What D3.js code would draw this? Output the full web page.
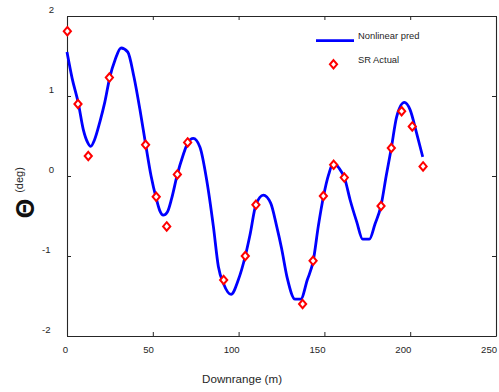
<!DOCTYPE html>
<html>
<head>
<meta charset="utf-8">
<script src="https://cdn.jsdelivr.net/npm/d3@7"></script>
<style>
  html, body { margin: 0; padding: 0; background: #fff; }
  svg { display: block; font-family: "Liberation Sans", Arial, sans-serif; }
</style>
</head>
<body>
<svg id="chart" width="499" height="392"></svg>
<script>
// Nonlinear prediction of pitch angle along the run
const predDist = [0, 3, 6.6, 9.5, 12, 13.8, 16, 19.2, 22, 25, 28, 31.5, 35.4, 39, 42.5,
  45.8, 49, 52, 54, 56.1, 58.5, 61, 64.3, 67.5, 70.3, 73.6, 77.5, 81.4, 85.3, 88.2,
  91.3, 95.6, 99.8, 103.9, 106.6, 110.1, 114.4, 118.7, 122.2, 125, 128.4, 132.9, 136.2,
  140, 143.5, 146.5, 149.6, 152.5, 155.2, 158.5, 161.8, 165, 168.8, 172.3, 176.2,
  179.5, 183, 186, 189, 192.1, 196.6, 199.9, 203.8, 207.3];
const predTheta = [1.55, 1.22, 0.91, 0.58, 0.42, 0.37, 0.45, 0.68, 0.92, 1.24, 1.45, 1.6,
  1.55, 1.24, 0.83, 0.4, 0.0, -0.28, -0.43, -0.49, -0.45, -0.28, 0.02, 0.25, 0.41, 0.47,
  0.36, -0.05, -0.63, -1.13, -1.35, -1.48, -1.30, -1.0, -0.74, -0.36, -0.24, -0.34,
  -0.63, -0.9, -1.28, -1.54, -1.54, -1.3, -1.06, -0.62, -0.24, 0.02, 0.16, 0.1, -0.03,
  -0.3, -0.57, -0.79, -0.79, -0.6, -0.37, 0.0, 0.35, 0.74, 0.92, 0.83, 0.53, 0.24];

// Measured (SR) pitch angle samples
const srDist = [0.2, 6.4, 12.4, 24.7, 45.8, 52, 58.1, 64.3, 70.3, 91.3, 103.9, 110.1,
  137.3, 143.4, 149.4, 155.4, 161.6, 183, 189, 195, 201.2, 207.5];
const srTheta = [1.81, 0.9, 0.25, 1.23, 0.39, -0.26, -0.63, 0.02, 0.42, -1.30, -1.0, -0.36,
  -1.6, -1.06, -0.25, 0.14, -0.02, -0.375, 0.35, 0.81, 0.62, 0.12];

const xTicks = [0, 50, 100, 150, 200, 250];
const yTicks = [-2, -1, 0, 1, 2];
const legendLabels = ["Nonlinear pred", "SR Actual"];

const svg = d3.select("#chart");
const axisColor = "#262626";

const x = d3.scaleLinear().domain([0, 250]).range([67, 496]);
const y = d3.scaleLinear().domain([-2, 2]).range([336, 16]);

// hollow diamond marker
function diamond(cx, cy, hw, hh) {
  const p = d3.path();
  p.moveTo(cx, cy - hh);
  p.lineTo(cx + hw, cy);
  p.lineTo(cx, cy + hh);
  p.lineTo(cx - hw, cy);
  p.closePath();
  return p.toString();
}

const plainLabel = d => String(d);

// axes: ticks point inward on all four sides
const gBottom = svg.append("g").attr("transform", `translate(0,${y(-2)})`)
  .call(d3.axisBottom(x).tickValues(xTicks).tickFormat(plainLabel)
    .tickSizeInner(-4).tickSizeOuter(0).tickPadding(10));
const gTop = svg.append("g").attr("transform", `translate(0,${y(2)})`)
  .call(d3.axisTop(x).tickValues(xTicks).tickSizeInner(-4).tickSizeOuter(0).tickFormat(""));
const gLeft = svg.append("g").attr("transform", `translate(${x(0)},0)`)
  .call(d3.axisLeft(y).tickValues(yTicks).tickFormat(plainLabel)
    .tickSizeInner(-4).tickSizeOuter(0).tickPadding(13));
const gRight = svg.append("g").attr("transform", `translate(${x(250)},0)`)
  .call(d3.axisRight(y).tickValues(yTicks).tickSizeInner(-4).tickSizeOuter(0).tickFormat(""));

[gBottom, gTop, gLeft, gRight].forEach(g => {
  g.select(".domain").attr("stroke", axisColor).attr("stroke-width", 1.1);
  g.selectAll(".tick line").attr("stroke", axisColor).attr("stroke-width", 1);
  g.selectAll(".tick text").attr("fill", axisColor)
    .style("font-family", "'Liberation Sans', Arial, sans-serif").style("font-size", "9.6px");
});
gBottom.selectAll(".tick text").attr("text-anchor", "end").attr("dx", "0.6");
gLeft.selectAll(".tick text")
  .attr("dy", "-3.4")
  .attr("x", d => d < 0 ? -16.5 : -13);

// axis titles
svg.append("text")
  .attr("x", 282).attr("y", 382.5)
  .attr("text-anchor", "end")
  .attr("fill", axisColor)
  .style("font-size", "11.6px")
  .text("Downrange (m)");

svg.append("text")
  .attr("transform", "translate(33.5,208.6) rotate(-90)")
  .attr("text-anchor", "middle")
  .attr("fill", "#111")
  .style("font-family", "'Liberation Sans', Arial, sans-serif")
  .style("font-size", "25px")
  .style("font-weight", "bold")
  .text("Θ");
svg.append("text")
  .attr("transform", "translate(22.8,180) rotate(-90)")
  .attr("text-anchor", "middle")
  .attr("fill", axisColor)
  .style("font-size", "11px")
  .text("(deg)");

// prediction line
const line = d3.line()
  .x((d, i) => x(predDist[i]))
  .y(d => y(d))
  .curve(d3.curveMonotoneX);
svg.append("path")
  .datum(predTheta)
  .attr("d", line)
  .attr("fill", "none")
  .attr("stroke", "#0000ff")
  .attr("stroke-width", 2.8)
  .attr("stroke-linejoin", "round");

// measured samples
svg.append("g").selectAll("path")
  .data(srTheta)
  .join("path")
  .attr("d", (d, i) => diamond(x(srDist[i]), y(d), 3.6, 4.2))
  .attr("fill", "#fff")
  .attr("stroke", "#ff0000")
  .attr("stroke-width", 2);

// legend
const leg = svg.append("g");
leg.append("line")
  .attr("x1", 316).attr("x2", 354).attr("y1", 40.7).attr("y2", 40.7)
  .attr("stroke", "#0000ff").attr("stroke-width", 2.8);
leg.append("path")
  .attr("d", diamond(333.5, 64.3, 3.6, 4.2))
  .attr("fill", "#fff").attr("stroke", "#ff0000").attr("stroke-width", 2);
leg.selectAll("text")
  .data(legendLabels)
  .join("text")
  .attr("x", 358)
  .attr("y", (d, i) => 38.6 + i * 24.3)
  .attr("fill", axisColor)
  .style("font-size", "9.4px")
  .text(d => d);
</script>
</body>
</html>
